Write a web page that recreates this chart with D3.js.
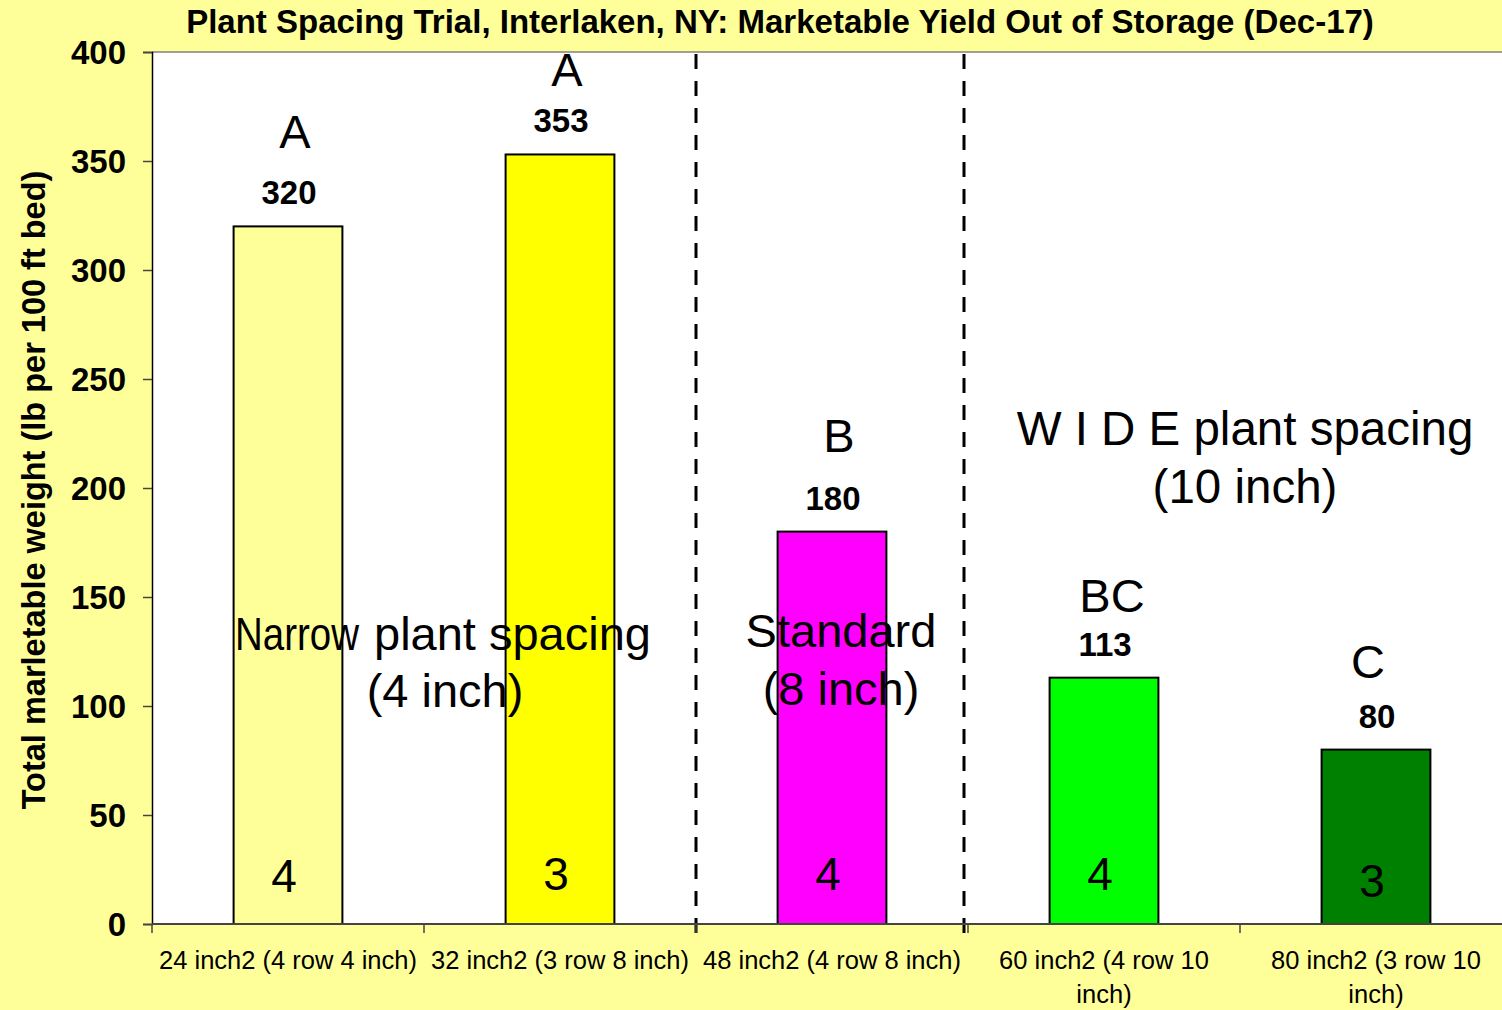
<!DOCTYPE html>
<html><head><meta charset="utf-8">
<script src="https://cdn.jsdelivr.net/npm/d3@7/dist/d3.min.js"></script>
<style>
html,body{margin:0;padding:0;background:#FFFF99;}
svg{display:block;font-family:"Liberation Sans",Arial,sans-serif;}
</style></head><body>
<script>
const categories = ["24 inch2 (4 row 4 inch)","32 inch2 (3 row 8 inch)","48 inch2 (4 row 8 inch)","60 inch2 (4 row 10\ninch)","80 inch2 (3 row 10\ninch)"];
const yieldValues = [320,353,180,113,80];
const letterGroups = ["A","A","B","BC","C"];
const replicateCounts = ["4","3","4","4","3"];
const barColors = ["#FFFF99","#FFFF00","#FF00FF","#00FF00","#008000"];
const yTicks = [0,50,100,150,200,250,300,350,400];
const noteLines = [["Narrow plant spacing","(4 inch)"],["Standard","(8 inch)"],["W I D E plant spacing","(10 inch)"]];
const titleText = "Plant Spacing Trial, Interlaken, NY: Marketable Yield Out of Storage (Dec-17)";
const yTitle = "Total marletable weight (lb per 100 ft bed)";

const W=1502,H=1010;
const M={left:152,top:52,right:1512,bottom:924};
const svg=d3.select("body").append("svg").attr("width",W).attr("height",H);
svg.append("rect").attr("width",W).attr("height",H).attr("fill","#FFFF99");

const xb=d3.scaleBand().domain(categories).range([M.left,M.right]);
const y=d3.scaleLinear().domain([0,400]).range([M.bottom,M.top]);

svg.append("rect").attr("x",M.left).attr("y",M.top).attr("width",M.right-M.left).attr("height",M.bottom-M.top).attr("fill","#fff");
svg.append("line").attr("x1",M.left).attr("x2",M.right).attr("y1",M.top).attr("y2",M.top).attr("stroke","#808080").attr("stroke-width",1.5);

// bars
svg.selectAll(".bar").data(yieldValues).enter().append("rect")
  .attr("x",(d,i)=>xb(categories[i])+xb.bandwidth()*0.3)
  .attr("width",xb.bandwidth()*0.4)
  .attr("y",d=>y(d)).attr("height",d=>y(0)-y(d))
  .attr("fill",(d,i)=>barColors[i]).attr("stroke","#000").attr("stroke-width",2);

// dashed separators
const sepX=[xb(categories[2]), xb(categories[3])-4];
sepX.forEach(sx=>{
  svg.append("line").attr("x1",sx).attr("x2",sx).attr("y1",M.top+2).attr("y2",M.bottom+12)
    .attr("stroke","#000").attr("stroke-width",3).attr("stroke-dasharray","15,12");
});

// axes
const yAxis=d3.axisLeft(y).tickValues(yTicks).tickSize(9).tickPadding(17);
const gy=svg.append("g").attr("transform",`translate(${M.left},0)`).call(yAxis);
gy.select(".domain").attr("stroke","#000").attr("stroke-width",1.5);
gy.selectAll(".tick line").attr("stroke","#444").attr("stroke-width",1.5);
gy.selectAll(".tick text").attr("font-size",33).attr("font-weight","bold").attr("fill","#000").attr("dy","0.35em").attr("font-family","Liberation Sans, Arial, sans-serif");

const gx=svg.append("g").attr("transform",`translate(0,${M.bottom})`);
gx.append("line").attr("x1",M.left).attr("x2",M.right).attr("stroke","#444").attr("stroke-width",2);
const bounds=categories.map(c=>xb(c)).concat([M.right]);
gx.selectAll(".tk").data(bounds).enter().append("line").attr("x1",d=>d).attr("x2",d=>d).attr("y1",0).attr("y2",9).attr("stroke","#444").attr("stroke-width",1.5);
categories.forEach((c,i)=>{
  const t=gx.append("text").attr("y",45).attr("text-anchor","middle").attr("font-size",25.5).attr("fill","#000");
  c.split("\n").forEach((ln,j)=>t.append("tspan").attr("x",xb(c)+xb.bandwidth()/2).attr("dy",j?34:0).text(ln));
});

// labels
const cx=i=>xb(categories[i])+xb.bandwidth()/2;
svg.selectAll(".val").data(yieldValues).enter().append("text")
  .attr("x",(d,i)=>cx(i)+1).attr("y",d=>y(d)-22).attr("text-anchor","middle")
  .attr("font-size",33).attr("font-weight","bold").text(d=>d);
const letterDx=[7,7,7,8,-8], letterDy=[78,68,80,66,72];
svg.selectAll(".let").data(letterGroups).enter().append("text")
  .attr("x",(d,i)=>cx(i)+letterDx[i]).attr("y",(d,i)=>y(yieldValues[i])-letterDy[i]).attr("text-anchor","middle")
  .attr("font-size",47).text(d=>d);
const countDy=[32,34,34,34,27];
svg.selectAll(".cnt").data(replicateCounts).enter().append("text")
  .attr("x",(d,i)=>cx(i)-4).attr("y",(d,i)=>y(0)-countDy[i]).attr("text-anchor","middle")
  .attr("font-size",46).text(d=>d);

// group notes
const nCenter=(cx(0)+cx(1))/2+21;
const wordSplit=noteLines[0][0].split(" ");
svg.append("text").attr("font-size",47).attr("y",650).attr("x",235)
  .attr("textLength",124).attr("lengthAdjust","spacingAndGlyphs").text(wordSplit[0]);
svg.append("text").attr("font-size",47).attr("y",650).attr("x",374).text(wordSplit.slice(1).join(" "));
svg.append("text").attr("font-size",47).attr("y",707).attr("x",nCenter).attr("text-anchor","middle").text(noteLines[0][1]);

const sC=cx(2)+9;
const n2=svg.append("text").attr("text-anchor","middle").attr("font-size",47).attr("y",647);
noteLines[1].forEach((ln,j)=>n2.append("tspan").attr("x",sC).attr("dy",j?58:0).text(ln));

const wC=(cx(3)+cx(4))/2+5;
const n3=svg.append("text").attr("text-anchor","middle").attr("font-size",47.5).attr("y",445);
noteLines[2].forEach((ln,j)=>n3.append("tspan").attr("x",wC).attr("dy",j?58:0).text(ln));

svg.append("text").attr("x",780).attr("y",33).attr("text-anchor","middle").attr("font-size",33).attr("font-weight","bold").text(titleText);
svg.append("text").attr("transform","translate(45,490) rotate(-90)").attr("text-anchor","middle").attr("font-size",32.5).attr("font-weight","bold").text(yTitle);
</script></body></html>
